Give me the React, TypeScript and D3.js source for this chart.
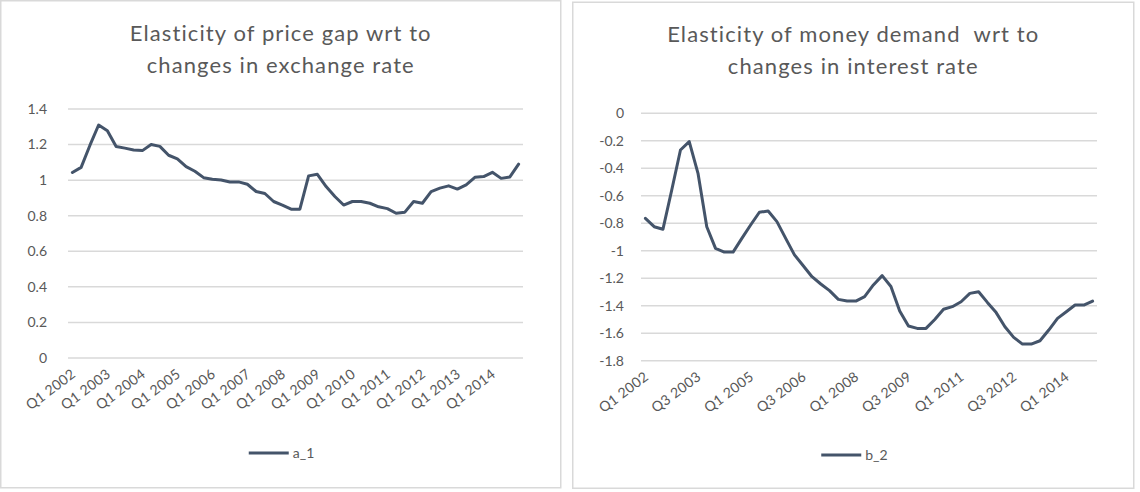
import React, { useRef, useEffect } from "react";
import * as d3 from "d3";

// quarterly categories, Q1 2002 .. Q4 2014
const years = [2002, 2003, 2004, 2005, 2006, 2007, 2008, 2009, 2010, 2011, 2012, 2013, 2014];
const quarterNames = ["Q1", "Q2", "Q3", "Q4"];
const quarters = years.flatMap((y) => quarterNames.map((q) => `${q} ${y}`));

// a_1: elasticity of price gap wrt exchange rate
const a1 = [
  1.043, 1.072, 1.195, 1.31, 1.278, 1.189, 1.18, 1.17, 1.166, 1.2, 1.19, 1.14, 1.12,
  1.076, 1.05, 1.014, 1.005, 1.001, 0.99, 0.99, 0.977, 0.936, 0.925, 0.88, 0.86, 0.837,
  0.837, 1.024, 1.033, 0.964, 0.908, 0.86, 0.88, 0.88, 0.87, 0.85, 0.84, 0.814, 0.82,
  0.88, 0.87, 0.936, 0.955, 0.968, 0.95, 0.973, 1.016, 1.02, 1.044, 1.01, 1.018, 1.09,
];

// b_2: elasticity of money demand wrt interest rate
const b2 = [
  -0.764, -0.825, -0.844, -0.56, -0.267, -0.206, -0.437, -0.825, -0.983, -1.01, -1.01,
  -0.91, -0.813, -0.72, -0.711, -0.788, -0.91, -1.03, -1.109, -1.189, -1.242, -1.29,
  -1.354, -1.366, -1.366, -1.334, -1.249, -1.181, -1.26, -1.439, -1.548, -1.565, -1.565,
  -1.5, -1.426, -1.407, -1.371, -1.31, -1.298, -1.376, -1.45, -1.553, -1.63, -1.679,
  -1.679, -1.655, -1.577, -1.492, -1.444, -1.395, -1.395, -1.366,
];

const aTicks = [0, 0.2, 0.4, 0.6, 0.8, 1, 1.2, 1.4];
const bTicks = [0, -0.2, -0.4, -0.6, -0.8, -1, -1.2, -1.4, -1.6, -1.8];

const FONT = "Lato, 'Open Sans', sans-serif";
const TEXT = "#595959";
const GRID = "#d9d9d9";
const LINE = "#44546a";

function Panel({ box, plot, title, values, yTicks, labelEvery, name }) {
  const gRef = useRef(null);

  useEffect(() => {
    const g = d3.select(gRef.current);
    g.selectAll("*").remove();

    // chart frame
    g.append("rect")
      .attr("x", box.x)
      .attr("y", box.y)
      .attr("width", box.w)
      .attr("height", box.h)
      .attr("fill", "#fff")
      .attr("stroke", GRID)
      .attr("stroke-width", 1.5);

    const cx = box.x + box.w / 2;
    const t = g.append("text")
      .attr("text-anchor", "middle")
      .attr("font-family", FONT)
      .attr("font-size", 22)
      .attr("letter-spacing", 1.1)
      .attr("fill", TEXT)
      .style("white-space", "pre");
    title.forEach((line, i) => {
      t.append("tspan").attr("x", cx).attr("y", plot.titleY + i * 32).text(line);
    });

    const x = d3.scaleBand().domain(quarters).range([plot.x0, plot.x1]);
    const y = d3.scaleLinear().domain(d3.extent(yTicks)).range([plot.yBottom, plot.yTop]);
    const cxOf = (q) => x(q) + x.bandwidth() / 2;

    // horizontal gridlines + value labels
    yTicks.forEach((v) => {
      g.append("line")
        .attr("x1", plot.x0)
        .attr("x2", plot.x1)
        .attr("y1", y(v))
        .attr("y2", y(v))
        .attr("stroke", GRID)
        .attr("stroke-width", 1.5);
      g.append("text")
        .attr("x", plot.x0 - plot.labelGap)
        .attr("y", y(v))
        .attr("dy", "0.35em")
        .attr("text-anchor", "end")
        .attr("font-family", FONT)
        .attr("font-size", 14)
        .attr("fill", TEXT)
        .text(String(v));
    });

    // rotated category labels
    quarters.forEach((q, i) => {
      if (i % labelEvery !== 0) return;
      const px = cxOf(q) + 4;
      const py = plot.yBottom + 18;
      g.append("text")
        .attr("transform", `translate(${px},${py}) rotate(-37)`)
        .attr("text-anchor", "end")
        .attr("font-family", FONT)
        .attr("font-size", 14)
        .attr("letter-spacing", 0.3)
        .attr("fill", TEXT)
        .text(q);
    });

    const line = d3
      .line()
      .x((d, i) => cxOf(quarters[i]))
      .y((d) => y(d));

    g.append("path")
      .datum(values)
      .attr("fill", "none")
      .attr("stroke", LINE)
      .attr("stroke-width", 3)
      .attr("stroke-linejoin", "round")
      .attr("stroke-linecap", "round")
      .attr("d", line);

    // legend
    const lx = cx - 32;
    g.append("line")
      .attr("x1", lx)
      .attr("x2", lx + 40)
      .attr("y1", plot.legendY)
      .attr("y2", plot.legendY)
      .attr("stroke", LINE)
      .attr("stroke-width", 3);
    g.append("text")
      .attr("x", lx + 44)
      .attr("y", plot.legendY)
      .attr("dy", "0.35em")
      .attr("font-family", FONT)
      .attr("font-size", 14)
      .attr("fill", TEXT)
      .text(name);
  }, [box, plot, title, values, yTicks, labelEvery, name]);

  return <g ref={gRef}></g>;
}

const leftBox = { x: 0.75, y: 0.75, w: 560, h: 487 };
const leftPlot = { x0: 68, x1: 523, yTop: 109, yBottom: 358, labelGap: 21, titleY: 41, legendY: 453 };
const rightBox = { x: 572.75, y: 2.25, w: 561, h: 486 };
const rightPlot = { x0: 641, x1: 1097, yTop: 113.3, yBottom: 360.7, labelGap: 17, titleY: 42, legendY: 455 };

export default function App() {
  return (
    <svg width={1140} height={492} style={{ position: "absolute", left: 0, top: 0, background: "#fff" }}>
      <Panel
        box={leftBox}
        plot={leftPlot}
        title={["Elasticity of price gap wrt to", "changes in exchange rate"]}
        values={a1}
        yTicks={aTicks}
        labelEvery={4}
        name="a_1"
      />
      <Panel
        box={rightBox}
        plot={rightPlot}
        title={["Elasticity of money demand  wrt to", "changes in interest rate"]}
        values={b2}
        yTicks={bTicks}
        labelEvery={6}
        name="b_2"
      />
    </svg>
  );
}
